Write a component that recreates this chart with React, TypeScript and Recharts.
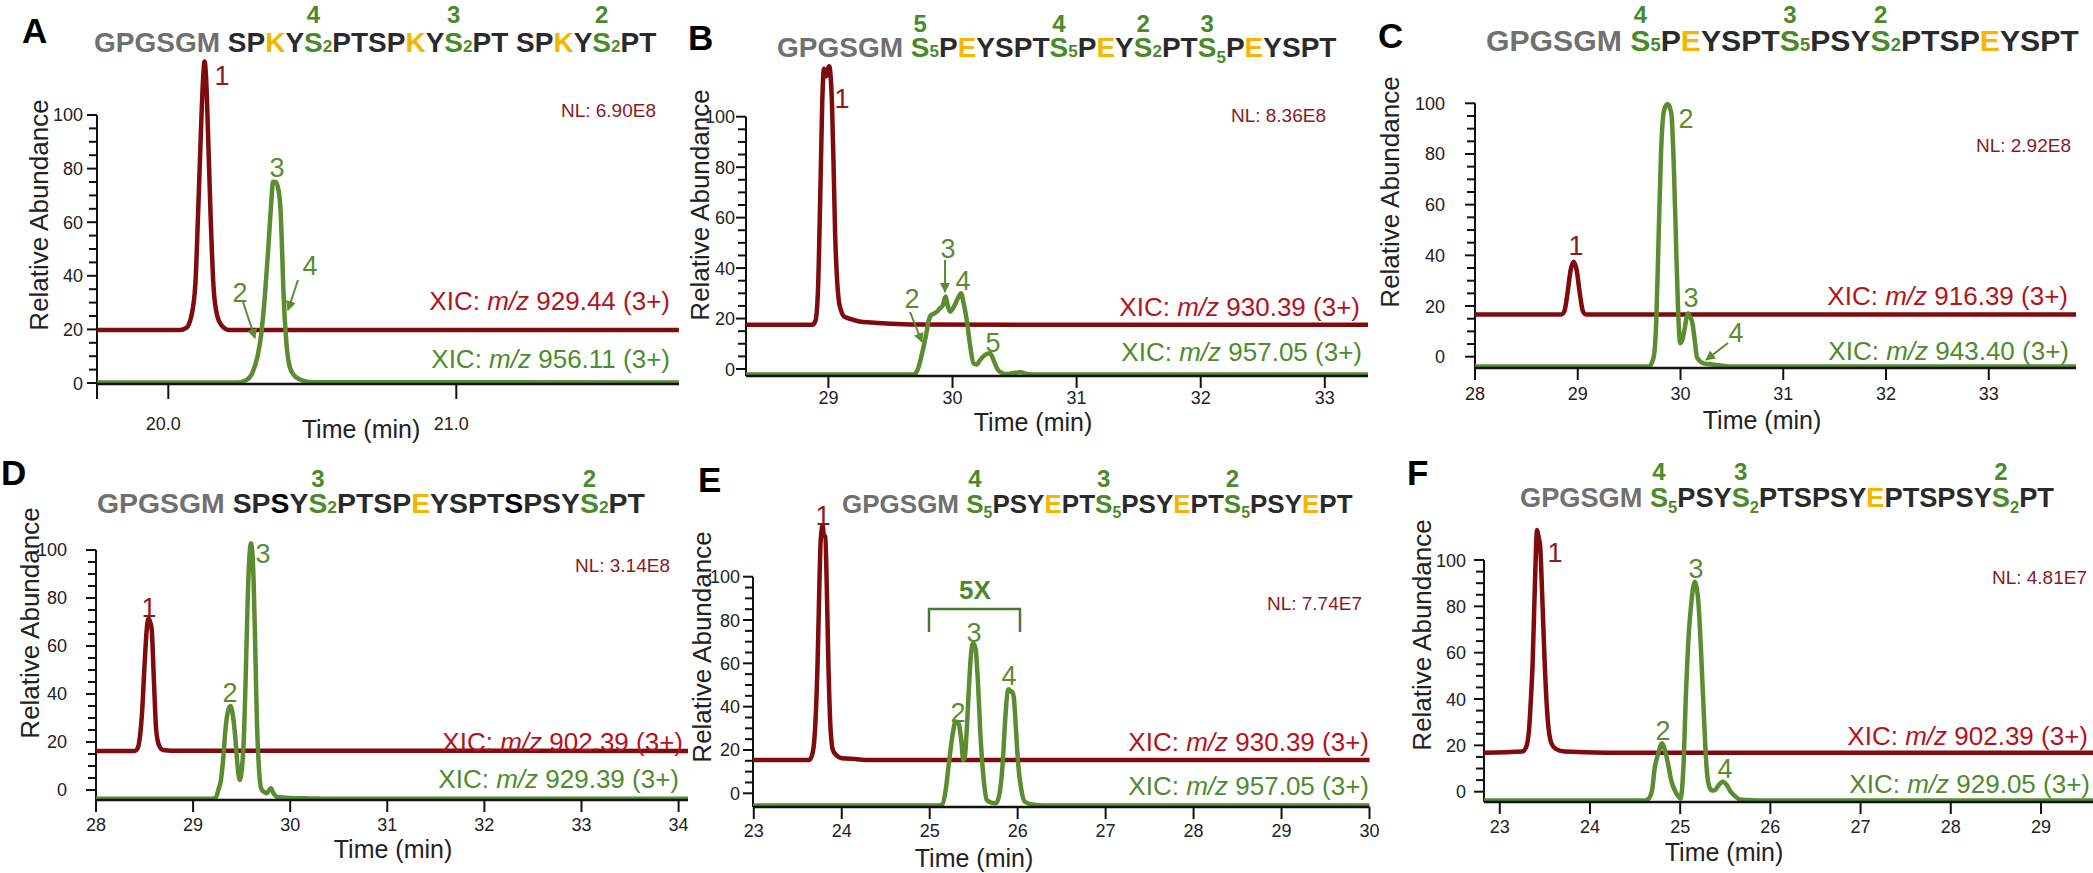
import React from 'react';
import { LineChart, Line, XAxis, YAxis, ReferenceLine } from 'recharts';

const W = 2093;
const H = 873;
const FONT = '"Liberation Sans", Arial, Helvetica, sans-serif';

const RED_LINE = '#7e0b0d';
const GREEN_LINE = '#5b8c30';
const RED_TEXT = '#b3141c';
const RED_DARK = '#8b1a1a';
const GREEN_TEXT = '#4e8b2c';
const GRAY = '#707070';
const DARK = '#2a2a2a';
const BLACK = '#000000';
const YEL = '#f6b500';
const SEQ_GREEN = '#4a8a2a';

// ---------------- data (time in min, relative abundance) ----------------
const A_RED_T = [19.753, 20.04, 20.062, 20.08, 20.094, 20.104, 20.113, 20.12, 20.126, 20.132, 20.138, 20.147, 20.157, 20.17, 20.185, 20.21, 21.773];
const A_RED_V = [19.8, 19.8, 20.5, 25, 37, 65, 93, 112, 120, 112, 93, 62, 36, 25, 21.5, 19.8, 19.8];
const A_GRN_T = [19.753, 20.24, 20.27, 20.291, 20.31, 20.323, 20.335, 20.346, 20.356, 20.364, 20.372, 20.38, 20.389, 20.395, 20.4, 20.41, 20.423, 20.44, 20.462, 20.5, 21.773];
const A_GRN_V = [0.2, 0.2, 1, 3.6, 10, 18.5, 32, 48.4, 65, 75.1, 75, 73.3, 65.8, 50, 33.5, 15, 5.5, 2.5, 1.1, 0.3, 0.2];

const B_RED_T = [28.336, 28.87, 28.895, 28.915, 28.935, 28.95, 28.964, 28.975, 28.985, 28.996, 29.007, 29.018, 29.029, 29.042, 29.054, 29.068, 29.083, 29.1, 29.126, 29.18, 29.25, 29.35, 29.5, 29.7, 33.348];
const B_RED_V = [17.5, 17.5, 19, 30, 70, 105, 119, 117, 116, 119, 120, 116, 105, 80, 54, 37, 27.4, 23.5, 20.8, 19.8, 18.8, 18.4, 17.9, 17.6, 17.5];
const B_GRN_T = [28.336, 29.68, 29.701, 29.725, 29.755, 29.785, 29.809, 29.83, 29.856, 29.88, 29.899, 29.92, 29.943, 29.962, 29.982, 30.003, 30.025, 30.048, 30.069, 30.09, 30.115, 30.14, 30.169, 30.195, 30.223, 30.26, 30.302, 30.335, 30.367, 30.4, 30.439, 30.49, 30.547, 30.6, 30.655, 30.75, 33.348];
const B_GRN_V = [-2.2, -2.2, -1.8, 0.5, 6.2, 13, 19.4, 21.5, 22.1, 23, 24.1, 25, 28.7, 25, 22.7, 24, 26.1, 28.5, 30, 26, 19.4, 10, 2.3, 1.8, 3.6, 5.5, 6.2, 3, -0.4, -1.6, -2.0, -1.6, -1.3, -2.0, -2.2, -2.2, -2.2];

const C_RED_T = [28, 28.84, 28.87, 28.9, 28.93, 28.96, 28.99, 29.02, 29.05, 29.08, 33.849];
const C_RED_V = [16.7, 16.7, 18, 25, 34, 37.5, 34, 25, 18, 16.7, 16.7];
const C_GRN_T = [28, 29.69, 29.72, 29.745, 29.765, 29.788, 29.81, 29.841, 29.876, 29.911, 29.935, 29.954, 29.975, 29.998, 30.02, 30.04, 30.057, 30.073, 30.09, 30.116, 30.14, 30.159, 30.19, 30.225, 30.29, 30.356, 30.42, 30.49, 33.849];
const C_GRN_V = [-3.9, -3.9, -2.5, 1.3, 15, 48.7, 80, 97.4, 99.7, 96, 75, 48.7, 20, 5.3, 7, 11, 15, 17.1, 16, 13.2, 6, 0, -1.8, -2.6, -3, -3.3, -3.6, -3.9, -3.9];

const D_RED_T = [28, 28.4, 28.43, 28.455, 28.474, 28.5, 28.525, 28.542, 28.558, 28.574, 28.597, 28.62, 28.65, 28.69, 28.78, 34.097];
const D_RED_V = [16.3, 16.3, 17.5, 23, 32, 52, 68, 71.5, 70, 66.7, 45, 25, 18.5, 16.7, 16.4, 16.3];
const D_GRN_T = [28, 29.2, 29.235, 29.26, 29.287, 29.31, 29.333, 29.36, 29.384, 29.41, 29.434, 29.458, 29.48, 29.503, 29.526, 29.545, 29.563, 29.58, 29.595, 29.61, 29.623, 29.64, 29.655, 29.68, 29.701, 29.73, 29.756, 29.78, 29.802, 29.83, 29.862, 29.95, 30.045, 30.2, 30.368, 34.097];
const D_GRN_V = [-3.6, -3.6, -3, 0, 4.2, 13, 25, 33, 35, 31, 22.2, 10, 4.2, 9, 25, 52, 80.5, 97, 102.8, 99, 87.5, 60, 32, 8, 0.7, -0.8, -1.4, -0.2, 0.7, -1.5, -2.8, -3.2, -3.4, -3.5, -3.6, -3.6];

const E_RED_T = [22.991, 23.63, 23.665, 23.696, 23.725, 23.745, 23.757, 23.77, 23.782, 23.797, 23.813, 23.83, 23.848, 23.87, 23.899, 23.94, 24.0, 24.15, 24.305, 30];
const E_RED_V = [15.4, 15.4, 18, 29.2, 60, 95, 113.9, 121, 123.9, 119, 118.5, 95, 60, 32, 20, 17.5, 16.2, 15.8, 15.4, 15.4];
const E_GRN_T = [22.991, 25.1, 25.142, 25.18, 25.218, 25.26, 25.294, 25.315, 25.335, 25.36, 25.381, 25.4, 25.421, 25.45, 25.482, 25.5, 25.523, 25.55, 25.574, 25.61, 25.65, 25.7, 25.751, 25.79, 25.827, 25.86, 25.889, 25.903, 25.918, 25.935, 25.955, 25.98, 26.005, 26.04, 26.081, 26.18, 26.285, 30];
const E_GRN_V = [-5.6, -5.6, -5.2, 1, 13.9, 27, 33.1, 33, 31.5, 24, 15.4, 17, 29.2, 52, 68.5, 69, 66.2, 50, 29.2, 8, -3.1, -4.3, -4.6, -1, 12.3, 35, 47.7, 48, 46.9, 47, 44.6, 30, 13.9, 2, -3.9, -5.3, -5.6, -5.6];

const F_RED_T = [22.825, 23.25, 23.29, 23.324, 23.345, 23.364, 23.39, 23.413, 23.43, 23.448, 23.47, 23.498, 23.53, 23.572, 23.62, 23.722, 24.169, 29.577];
const F_RED_V = [16.8, 17.3, 19, 26.6, 40, 55.4, 90, 112.9, 110, 105.7, 85, 55.4, 32, 20.9, 18.5, 17.3, 16.8, 16.8];
const F_GRN_T = [22.825, 24.6, 24.65, 24.69, 24.715, 24.76, 24.8, 24.83, 24.865, 24.9, 24.939, 24.97, 25.004, 25.035, 25.063, 25.095, 25.123, 25.143, 25.163, 25.183, 25.203, 25.232, 25.262, 25.29, 25.322, 25.355, 25.386, 25.43, 25.471, 25.515, 25.56, 25.61, 25.66, 25.75, 25.858, 29.577];
const F_GRN_V = [-3.8, -3.8, -3, 1, 9.4, 17, 20.9, 18, 12.2, 5, 0.7, -1.5, -2.9, 10, 41, 68, 81.3, 88, 90.6, 88, 81.3, 60, 33.8, 12, 2.2, 0.5, 0.7, 3, 4.3, 3, 0, -2, -3.3, -3.6, -3.8, -3.8];

// tick values / labels
const Y_TICKS = [0, 5, 10, 15, 20, 25, 30, 35, 40, 45, 50, 55, 60, 65, 70, 75, 80, 85, 90, 95, 100];
const A_X_TICKS = [19.7524, 20, 21];
const A_X_LABELS = ['', '20.0', '21.0'];
const B_X_TICKS = [29, 30, 31, 32, 33];
const C_X_TICKS = [28, 29, 30, 31, 32, 33];
const D_X_TICKS = [28, 29, 30, 31, 32, 33, 34];
const E_X_TICKS = [23, 24, 25, 26, 27, 28, 29, 30];
const F_X_TICKS = [23, 24, 25, 26, 27, 28, 29];

const pts = (t: number[], v: number[]) => t.map((x, i) => ({ t: x, v: v[i] }));

type Cfg = {
  left: number; right: number; top: number; axisY: number;
  xDomain: [number, number]; yDomain: [number, number];
  xTicks: number[]; xLabels?: string[]; xLabelDx: number; xLabelBase: number; xTickLen: number;
  yGap: number;
};

const CFG: Record<string, Cfg> = {
  A: { left: 97, right: 679, top: 40, axisY: 384, xDomain: [19.7524, 21.7733], yDomain: [-0.373, 127.985], xTicks: A_X_TICKS, xLabels: A_X_LABELS, xLabelDx: -5, xLabelBase: 429.5, xTickLen: 15, yGap: 14 },
  B: { left: 746, right: 1368, top: 40, axisY: 376, xDomain: [28.336, 33.348], yDomain: [-2.774, 130.4], xTicks: B_X_TICKS, xLabelDx: 0, xLabelBase: 404, xTickLen: 12, yGap: 11 },
  C: { left: 1475, right: 2076, top: 40, axisY: 368, xDomain: [28, 33.849], yDomain: [-4.459, 124.98], xTicks: C_X_TICKS, xLabelDx: 0, xLabelBase: 400, xTickLen: 12, yGap: 30 },
  D: { left: 96, right: 688, top: 500, axisY: 800, xDomain: [28, 34.097], yDomain: [-4.167, 120.83], xTicks: D_X_TICKS, xLabelDx: 0, xLabelBase: 831, xTickLen: 12, yGap: 29 },
  E: { left: 753, right: 1369.5, top: 500, axisY: 807, xDomain: [22.991, 30], yDomain: [-6.325, 135.41], xTicks: E_X_TICKS, xLabelDx: 0, xLabelBase: 836.5, xTickLen: 12, yGap: 13 },
  F: { left: 1484, right: 2093, top: 500, axisY: 802, xDomain: [22.825, 29.577], yDomain: [-4.445, 125.9], xTicks: F_X_TICKS, xLabelDx: 0, xLabelBase: 833, xTickLen: 12, yGap: 18 },
};

function Panel({ cfg, red, green }: { cfg: Cfg; red: { t: number; v: number }[]; green: { t: number; v: number }[] }) {
  const yTick = (p: any) => {
    const v = p.payload.value;
    const major = v % 20 === 0;
    return (
      <g>
        <line x1={p.x - (major ? 10 : 8)} x2={p.x} y1={p.y} y2={p.y} stroke="#111" strokeWidth={2} />
        {major && (
          <text x={p.x - cfg.yGap} y={p.y + 6.5} textAnchor="end" fontSize={18} fill="#222" fontFamily={FONT}>
            {v}
          </text>
        )}
      </g>
    );
  };
  const xTick = (p: any) => {
    const v = p.payload.value;
    const idx = cfg.xTicks.indexOf(v);
    const lab = cfg.xLabels ? cfg.xLabels[idx] : String(v);
    return (
      <g>
        <line x1={p.x} x2={p.x} y1={p.y} y2={p.y + cfg.xTickLen} stroke="#111" strokeWidth={2} />
        {lab !== '' && (
          <text x={p.x + cfg.xLabelDx} y={cfg.xLabelBase} textAnchor="middle" fontSize={18} fill="#222" fontFamily={FONT}>
            {lab}
          </text>
        )}
      </g>
    );
  };
  return (
    <div style={{ position: 'absolute', left: 0, top: 0 }}>
      <LineChart width={W} height={H} margin={{ top: cfg.top, left: cfg.left - 1, right: W - cfg.right, bottom: H - cfg.axisY - 1 }}>
        <XAxis type="number" dataKey="t" domain={cfg.xDomain} ticks={cfg.xTicks} interval={0} height={1} tickSize={0} tickMargin={0}
          axisLine={{ stroke: '#111', strokeWidth: 2.5 }} tickLine={false} tick={xTick} />
        <YAxis type="number" domain={cfg.yDomain} ticks={Y_TICKS} interval={0} width={1} tickSize={0} tickMargin={0}
          axisLine={false} tickLine={false} tick={yTick} />
        <ReferenceLine segment={[{ x: cfg.xDomain[0], y: cfg.yDomain[0] }, { x: cfg.xDomain[0], y: 100 }]} stroke="#111" strokeWidth={2} />
        <Line data={red} dataKey="v" type="monotone" stroke={RED_LINE} strokeWidth={4.5} dot={false} isAnimationActive={false} strokeLinejoin="round" />
        <Line data={green} dataKey="v" type="monotone" stroke={GREEN_LINE} strokeWidth={4.5} dot={false} isAnimationActive={false} strokeLinejoin="round" />
      </LineChart>
    </div>
  );
}

// ---------------- sequences ----------------
type Seg = [string, string, string?, boolean?, string?];
const SEQ_A: Seg[] = [['GPGSGM ', GRAY], ['SP', DARK], ['K', YEL], ['Y', DARK], ['S', SEQ_GREEN, '2', false, '4'], ['PTSP', DARK], ['K', YEL], ['Y', DARK], ['S', SEQ_GREEN, '2', false, '3'], ['PT SP', DARK], ['K', YEL], ['Y', DARK], ['S', SEQ_GREEN, '2', false, '2'], ['PT', DARK]];
const SEQ_B: Seg[] = [['GPGSGM ', GRAY], ['S', SEQ_GREEN, '5', false, '5'], ['P', DARK], ['E', YEL], ['YSPT', DARK], ['S', SEQ_GREEN, '5', false, '4'], ['P', DARK], ['E', YEL], ['Y', DARK], ['S', SEQ_GREEN, '2', false, '2'], ['PT', DARK], ['S', SEQ_GREEN, '5', true, '3'], ['P', DARK], ['E', YEL], ['YSPT', DARK]];
const SEQ_C: Seg[] = [['GPGSGM ', GRAY], ['S', SEQ_GREEN, '5', false, '4'], ['P', DARK], ['E', YEL], ['YSPT', DARK], ['S', SEQ_GREEN, '5', false, '3'], ['PSY', DARK], ['S', SEQ_GREEN, '2', false, '2'], ['PTSP', DARK], ['E', YEL], ['YSPT', DARK]];
const SEQ_D: Seg[] = [['GPGSGM ', GRAY], ['SP', DARK], ['S', BLACK], ['Y', DARK], ['S', SEQ_GREEN, '2', false, '3'], ['PTSP', DARK], ['E', YEL], ['YSPT', DARK], ['S', BLACK], ['PSY', DARK], ['S', SEQ_GREEN, '2', false, '2'], ['PT', DARK]];
const SEQ_E: Seg[] = [['GPGSGM ', GRAY], ['S', SEQ_GREEN, '5', true, '4'], ['PSY', DARK], ['E', YEL], ['PT', DARK], ['S', SEQ_GREEN, '5', true, '3'], ['PSY', DARK], ['E', YEL], ['PT', DARK], ['S', SEQ_GREEN, '5', true, '2'], ['PSY', DARK], ['E', YEL], ['PT', DARK]];
const SEQ_F: Seg[] = [['GPGSGM ', GRAY], ['S', SEQ_GREEN, '5', true, '4'], ['PSY', DARK], ['S', SEQ_GREEN, '2', true, '3'], ['PTSPSY', DARK], ['E', YEL], ['PTSPSY', DARK], ['S', SEQ_GREEN, '2', true, '2'], ['PT', DARK]];

function Seq({ x, base, up, fs, segs }: { x: number; base: number; up: number; fs: number; segs: Seg[] }) {
  const asc = 0.8465 * fs;
  return (
    <div style={{ position: 'absolute', left: x, top: base - asc, fontSize: fs, lineHeight: fs + 'px', fontWeight: 'bold', whiteSpace: 'pre', fontFamily: FONT }}>
      {segs.map((g, i) => (
        <React.Fragment key={i}>
          <span style={{ color: g[1], position: 'relative', display: g[4] ? 'inline-block' : 'inline' }}>
            {g[0]}
            {g[4] && (
              <span style={{ position: 'absolute', left: -10, width: 'calc(100% + 20px)', textAlign: 'center', top: asc - 20.3 - up, fontSize: 24, lineHeight: '24px', color: SEQ_GREEN }}>
                {g[4]}
              </span>
            )}
          </span>
          {g[2] && (
            <span style={{ color: g[1], fontSize: fs * 0.61, position: 'relative', top: g[3] ? fs * 0.21 : 0 }}>{g[2]}</span>
          )}
        </React.Fragment>
      ))}
    </div>
  );
}

// ---------------- annotations ----------------
const LETTERS: [string, number, number][] = [['A', 22, 43], ['B', 688, 50], ['C', 1378, 48], ['D', 1, 485], ['E', 698, 492], ['F', 1407, 485]];
const TIME_LABELS: [number, number][] = [[361, 438], [1033, 431], [1762, 429], [393, 858], [974, 867], [1724, 861]];
const YTITLES: [number, number][] = [[39, 215], [700, 205], [1390, 192], [30, 623], [702, 647], [1422, 635]];
const NL: [string, number, number][] = [['6.90E8', 656, 117], ['8.36E8', 1326, 122], ['2.92E8', 2071, 152], ['3.14E8', 670, 572], ['7.74E7', 1362, 610], ['4.81E7', 2087, 584]];
const XIC: [string, number, number, string, number, number][] = [
  ['929.44', 670, 309.5, '956.11', 670, 368],
  ['930.39', 1360, 316, '957.05', 1362, 361],
  ['916.39', 2068, 304.5, '943.40', 2069, 359.5],
  ['902.39', 683, 751, '929.39', 679, 788],
  ['930.39', 1369, 751, '957.05', 1369, 794.5],
  ['902.39', 2088, 744.5, '929.05', 2090, 793],
];
// [label, cx, cy, isRed]
const PEAKS: [string, number, number, boolean][] = [
  ['1', 222, 75, true], ['3', 277, 167, false], ['2', 240, 292, false], ['4', 310, 265, false],
  ['1', 842, 98, true], ['2', 912, 298, false], ['3', 948, 248, false], ['4', 963, 280, false], ['5', 993, 342, false],
  ['1', 1576, 245, true], ['2', 1686, 118, false], ['3', 1691, 297, false], ['4', 1736, 332, false],
  ['1', 149, 607, true], ['2', 230, 692, false], ['3', 263, 553, false],
  ['1', 823, 515, true], ['2', 958, 712, false], ['3', 974, 632, false], ['4', 1009, 675, false],
  ['1', 1555, 552, true], ['2', 1663, 730, false], ['3', 1696, 568, false], ['4', 1725, 768, false],
];
const ARROWS: [number, number, number, number][] = [
  [243, 302, 255, 338], [298, 280, 288, 310],
  [910, 312, 922, 342], [945, 260, 945, 292],
  [1728, 343, 1706, 360],
];

function Overlay() {
  return (
    <svg width={W} height={H} style={{ position: 'absolute', left: 0, top: 0, pointerEvents: 'none' }} fontFamily={FONT}>
      <defs>
        <marker id="arrG" viewBox="0 0 10 10" refX="9" refY="5" markerWidth="5" markerHeight="5" orient="auto">
          <path d="M0,0 L10,5 L0,10 z" fill={GREEN_LINE} />
        </marker>
      </defs>
      {LETTERS.map(([l, x, y]) => (
        <text key={l} x={x} y={y} fontSize={35} fontWeight="bold" fill="#000">{l}</text>
      ))}
      {TIME_LABELS.map(([x, y], i) => (
        <text key={'t' + i} x={x} y={y} fontSize={25} textAnchor="middle" fill="#222">Time (min)</text>
      ))}
      {YTITLES.map(([x, y], i) => (
        <text key={'y' + i} transform={`translate(${x},${y}) rotate(-90)`} x={0} y={9} fontSize={26} textAnchor="middle" fill="#222">Relative Abundance</text>
      ))}
      {NL.map(([v, x, y], i) => (
        <text key={'n' + i} x={x} y={y} fontSize={19} textAnchor="end" fill={RED_DARK}>{'NL: ' + v}</text>
      ))}
      {XIC.map(([r, rx, ry, g, gx, gy], i) => (
        <g key={'x' + i}>
          <text x={rx} y={ry} fontSize={26} textAnchor="end" fill={RED_TEXT}>XIC: <tspan fontStyle="italic">m/z</tspan> {r} (3+)</text>
          <text x={gx} y={gy} fontSize={26} textAnchor="end" fill={GREEN_TEXT}>XIC: <tspan fontStyle="italic">m/z</tspan> {g} (3+)</text>
        </g>
      ))}
      {PEAKS.map(([l, x, y, red], i) => (
        <text key={'p' + i} x={x} y={y + 9.5} fontSize={27} textAnchor="middle" fill={red ? RED_DARK : GREEN_LINE}>{l}</text>
      ))}
      {ARROWS.map(([x1, y1, x2, y2], i) => (
        <line key={'a' + i} x1={x1} y1={y1} x2={x2} y2={y2} stroke={GREEN_LINE} strokeWidth={2} markerEnd="url(#arrG)" />
      ))}
      <path d="M929,632 V609 H1020 V632" stroke="#4a7a35" strokeWidth={2.5} fill="none" />
      <text x={975} y={599} fontSize={26} fontWeight="bold" textAnchor="middle" fill="#4a8a2a">5X</text>
    </svg>
  );
}

export default function App() {
  return (
    <div style={{ position: 'absolute', left: 0, top: 0, width: W, height: H, background: '#fff', fontFamily: FONT, overflow: 'hidden' }}>
      <Panel cfg={CFG.A} red={pts(A_RED_T, A_RED_V)} green={pts(A_GRN_T, A_GRN_V)} />
      <Panel cfg={CFG.B} red={pts(B_RED_T, B_RED_V)} green={pts(B_GRN_T, B_GRN_V)} />
      <Panel cfg={CFG.C} red={pts(C_RED_T, C_RED_V)} green={pts(C_GRN_T, C_GRN_V)} />
      <Panel cfg={CFG.D} red={pts(D_RED_T, D_RED_V)} green={pts(D_GRN_T, D_GRN_V)} />
      <Panel cfg={CFG.E} red={pts(E_RED_T, E_RED_V)} green={pts(E_GRN_T, E_GRN_V)} />
      <Panel cfg={CFG.F} red={pts(F_RED_T, F_RED_V)} green={pts(F_GRN_T, F_GRN_V)} />
      <Overlay />
      <Seq x={94} base={53} up={30} fs={28} segs={SEQ_A} />
      <Seq x={777} base={58} up={26} fs={28} segs={SEQ_B} />
      <Seq x={1486} base={52} up={29} fs={30.2} segs={SEQ_C} />
      <Seq x={97} base={513} up={26} fs={28.4} segs={SEQ_D} />
      <Seq x={842} base={513} up={26} fs={26} segs={SEQ_E} />
      <Seq x={1520} base={507} up={27} fs={27.2} segs={SEQ_F} />
    </div>
  );
}
